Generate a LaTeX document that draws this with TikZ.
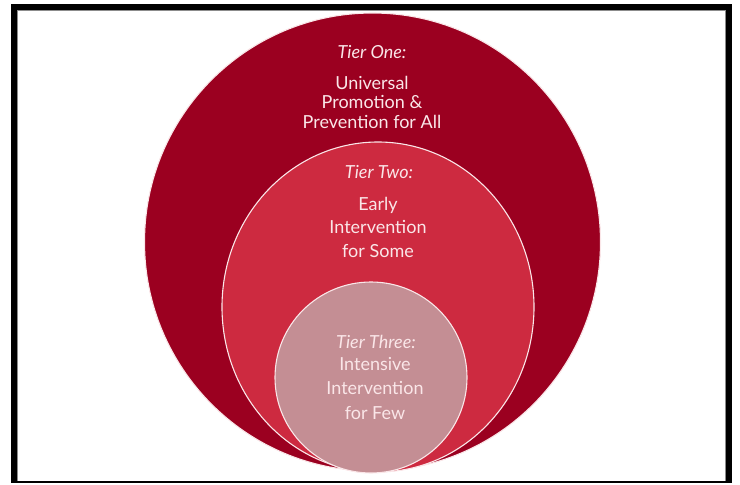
\documentclass[tikz,border=0pt]{standalone}
\usepackage{fontspec}
\setmainfont{Lato}
\usepackage{tikz}
\definecolor{tierone}{RGB}{155,0,32}
\definecolor{tiertwo}{RGB}{205,42,64}
\definecolor{tierthree}{RGB}{196,142,148}
\definecolor{tiertext}{RGB}{250,230,232}
\tikzstyle{ring}=[draw=tiertext, line width=1.1pt]
\tikzstyle{framebar}=[draw=black, line width=6pt]
\tikzstyle{tierhead}=[text=tiertext, font=\fontsize{18}{20}\selectfont\itshape, inner sep=0pt]
\tikzstyle{tierbody}=[text=tiertext, align=center, inner sep=0pt]

\begin{document}
\begin{tikzpicture}[x=1pt, y=-1pt]
		   \useasboundingbox (0,0) rectangle (740,485);
		   \begin{scope}
			   % frame
			   \draw[framebar] (14,482) -- (14,7) -- (728.5,7) -- (728.5,482);
			   \draw[black, line width=2pt] (11,482) -- (731.5,482);
			   \draw[black!45, line width=0.8pt] (17.5,480.5) -- (17.5,10.5) -- (725.5,10.5) -- (725.5,480.5);
		   \end{scope}
		   \begin{scope}
			   % nested tiers
			   \draw[fill=tierone, ring] (372.5,242) ellipse [x radius=228pt, y radius=229pt];
			   \draw[fill=tiertwo, ring] (378,307) ellipse [x radius=156pt, y radius=165pt];
			   \draw[fill=tierthree, ring] (371,377.5) ellipse [x radius=96pt, y radius=95.5pt];
		   \end{scope}
		   \begin{scope}
			   \node (onehead) at (372, 52)[tierhead] {Tier One:};
			   \node (onebody) at (372, 102)[tierbody, font=\fontsize{18}{19.5}\selectfont] {Universal\\Promotion \&\\Prevention for All};

			   \node (twohead) at (379, 172)[tierhead] {Tier Two:};
			   \node (twobody) at (378, 227)[tierbody, font=\fontsize{18}{23.5}\selectfont] {Early\\Intervention\\for Some};

			   \node (threehead) at (376, 342)[tierhead] {Tier Three:};
			   \node (threebody) at (375, 388)[tierbody, font=\fontsize{18}{24.5}\selectfont] {Intensive\\Intervention\\for Few};
		   \end{scope}
	   \end{tikzpicture}
\end{document}
